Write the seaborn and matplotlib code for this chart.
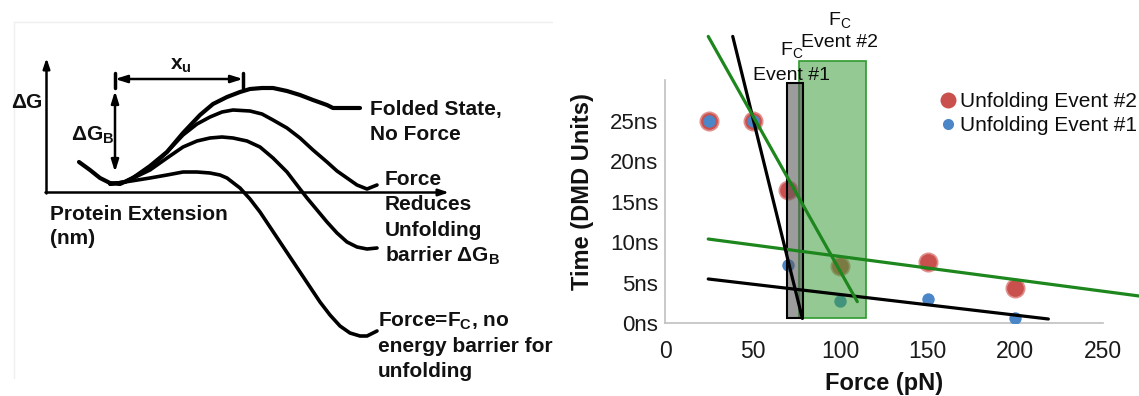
import matplotlib
matplotlib.use("Agg")
import matplotlib.pyplot as plt
from matplotlib.lines import Line2D
from matplotlib.patches import Rectangle
import seaborn as sns
import pandas as pd

# ---------------- data ----------------
# Right panel: unfolding times vs force
force = [25, 50, 70, 100, 150, 200]
event2_time = [25.0, 25.0, 16.4, 7.1, 7.6, 4.3]
event1_time = [25.0, 25.0, 7.2, 2.8, 3.0, 0.7]
# trend lines (end points)
ev1_steep_x = [38.6, 78.4]
ev1_steep_y = [35.4, 0.6]
ev1_flat_x = [24.6, 219.0]
ev1_flat_y = [5.47, 0.53]
ev2_steep_x = [24.6, 109.8]
ev2_steep_y = [35.4, 2.67]
ev2_flat_x = [24.6, 270.8]
ev2_flat_y = [10.4, 3.37]
# critical force bands
fc1_x = [69.4, 78.9]
fc1_y = [0.6, 29.7]
fc2_x = [76.7, 114.8]
fc2_y = [0.6, 32.4]
x_ticks = [0, 50, 100, 150, 200, 250]
y_ticks = [0, 5, 10, 15, 20, 25]
y_ticklabels = ["0ns", "5ns", "10ns", "15ns", "20ns", "25ns"]
legend_labels = ["Unfolding Event #2", "Unfolding Event #1"]

# Left panel: schematic energy landscapes (image-pixel units)
c1_x = [79, 90, 100, 110, 120, 133, 150, 167, 183, 200, 213, 227, 240, 250, 262, 273, 287, 300, 313, 327, 333, 345, 360]
c1_y = [162, 170, 178, 183, 184, 178, 166, 152, 133, 115, 104, 97, 92, 89, 88, 88, 91, 95, 100, 105, 108, 108, 108]
c2_x = [110, 125, 150, 167, 183, 197, 210, 222, 233, 250, 262, 273, 287, 300, 313, 327, 337, 347, 357, 367, 377]
c2_y = [184, 182, 168, 152, 135, 124, 117, 112, 110, 111, 114, 120, 128, 138, 150, 162, 171, 178, 185, 189, 185]
c3_x = [110, 125, 150, 167, 183, 197, 210, 222, 233, 247, 260, 273, 287, 300, 307, 317, 327, 337, 347, 357, 367, 377]
c3_y = [184, 182, 170, 158, 147, 141, 138, 137, 138, 141, 147, 158, 172, 189, 198, 210, 222, 233, 242, 247, 249, 248]
c4_x = [110, 125, 150, 167, 183, 197, 210, 220, 227, 240, 250, 260, 270, 280, 290, 300, 310, 320, 330, 340, 350, 360, 367, 377]
c4_y = [184, 182, 178, 175, 172, 172, 173, 175, 178, 188, 199, 212, 227, 242, 257, 272, 287, 302, 315, 326, 333, 336, 336, 331]
curve_label_lines = [
    ["Folded State,", "No Force"],
    ["Force", "Reduces", "Unfolding", "barrier ΔG$_\\mathbf{B}$"],
    ["Force=F$_\\mathbf{C}$, no", "energy barrier for", "unfolding"],
]

# ---------------- style ----------------
sns.set_style("white")
plt.rcParams["font.family"] = ["Liberation Sans", "DejaVu Sans"]
plt.rcParams["mathtext.fontset"] = "custom"
plt.rcParams["mathtext.rm"] = "Liberation Sans"
plt.rcParams["mathtext.bf"] = "Liberation Sans:bold"
plt.rcParams["mathtext.it"] = "Liberation Sans:italic"

W, H = 1139, 396
fig = plt.figure(figsize=(W / 100, H / 100), dpi=100)
fig.patch.set_facecolor("white")

# ================= LEFT PANEL =================
axl = fig.add_axes([0, 0, 560 / W, 1])
axl.set_xlim(0, 560)
axl.set_ylim(396, 0)
axl.axis("off")

# faint frame
axl.plot([14, 552], [22, 22], color="#efefef", lw=1)
axl.plot([14, 14], [22, 378], color="#efefef", lw=1)

# axes arrows
axl.annotate("", xy=(46.5, 58), xytext=(46.5, 193.5),
             arrowprops=dict(arrowstyle="-|>,head_length=0.6,head_width=0.2", color="black", lw=1.8, shrinkA=0, shrinkB=0))
axl.annotate("", xy=(449, 192.5), xytext=(45.5, 192.5),
             arrowprops=dict(arrowstyle="-|>,head_length=0.6,head_width=0.2", color="black", lw=1.8, shrinkA=0, shrinkB=0))

for cx, cy, lw in [(c1_x, c1_y, 3.0), (c2_x, c2_y, 2.6), (c3_x, c3_y, 2.6), (c4_x, c4_y, 2.6)]:
    sns.lineplot(x=cx, y=cy, sort=False, estimator=None, color="black", lw=lw, ax=axl)

# x_u arrow
axl.annotate("", xy=(115, 79), xytext=(243, 79),
             arrowprops=dict(arrowstyle="<|-|>,head_length=0.7,head_width=0.22", color="black", lw=1.8, shrinkA=0, shrinkB=0))
axl.plot([115, 115], [73, 88], color="black", lw=2.5)
axl.plot([243, 243], [73, 88], color="black", lw=2.5)
# delta G_B arrow
axl.annotate("", xy=(115, 91), xytext=(115, 172),
             arrowprops=dict(arrowstyle="<|-|>,head_length=0.7,head_width=0.22", color="black", lw=1.8, shrinkA=0, shrinkB=0))

tfs = 15
tkw = dict(fontsize=tfs, fontweight="bold", color="#111111", va="baseline")
axl.text(11, 107.5, "ΔG", ha="left", **tkw)
axl.text(71, 140.5, "ΔG$_\\mathbf{B}$", ha="left", **tkw)
axl.text(181, 70, "x$_\\mathbf{u}$", ha="center", **tkw)
axl.text(50, 220.5, "Protein Extension", ha="left", **tkw)
axl.text(50, 244, "(nm)", ha="left", **tkw)
label_pos = [(370, [115, 140]), (385, [185, 210, 236.5, 261.5]), (378, [327, 352.5, 377])]
for lines, (lx, ys) in zip(curve_label_lines, label_pos):
    for t, yy in zip(lines, ys):
        axl.text(lx, yy, t, ha="left", **tkw)

# ================= RIGHT PANEL =================
x0_px, y0_px = 665.2, 323.3
px_per_x = 1.7496
px_per_y = 8.104
xmax = (W - x0_px) / px_per_x
ymax = y0_px / px_per_y
axr = fig.add_axes([x0_px / W, (H - y0_px) / H, (W - x0_px) / W, y0_px / H])
axr.set_xlim(0, xmax)
axr.set_ylim(0, ymax)
axr.patch.set_alpha(0)

red = "#C9504C"
blue = "#4A86C8"
df2 = pd.DataFrame({"force": force, "time": event2_time})
df1 = pd.DataFrame({"force": force, "time": event1_time})
sns.scatterplot(data=df2, x="force", y="time", s=175, color=red, edgecolor="#e08f8c",
                linewidth=1.2, ax=axr, zorder=2, legend=False)
sns.scatterplot(data=df1, x="force", y="time", s=80, color=blue, linewidth=0,
                ax=axr, zorder=3, legend=False)

axr.add_patch(Rectangle((fc2_x[0], fc2_y[0]), fc2_x[1] - fc2_x[0], fc2_y[1] - fc2_y[0],
                        facecolor="#3c9e3c", alpha=0.55, edgecolor="none", zorder=4))
axr.add_patch(Rectangle((fc2_x[0], fc2_y[0]), fc2_x[1] - fc2_x[0], fc2_y[1] - fc2_y[0],
                        facecolor="none", edgecolor="#2e9a2e", lw=1.2, zorder=4))
axr.add_patch(Rectangle((fc1_x[0], fc1_y[0]), fc1_x[1] - fc1_x[0], fc1_y[1] - fc1_y[0],
                        facecolor="#5a5a5a", alpha=0.6, edgecolor="none", zorder=5))
axr.add_patch(Rectangle((fc1_x[0], fc1_y[0]), fc1_x[1] - fc1_x[0], fc1_y[1] - fc1_y[0],
                        facecolor="none", edgecolor="black", lw=1.5, zorder=5))

green = "#1D861D"
for lx, ly, c in [(ev2_flat_x, ev2_flat_y, green), (ev1_flat_x, ev1_flat_y, "black"),
                  (ev1_steep_x, ev1_steep_y, "black"), (ev2_steep_x, ev2_steep_y, green)]:
    sns.lineplot(x=lx, y=ly, color=c, lw=2.3, ax=axr, zorder=6)

for ln in axr.lines:
    ln.set_clip_on(False)

# band labels
txt_col = "#0d0d0d"
axr.text(99.9, 36.8, "F$_\\mathregular{C}$", ha="center", va="baseline", fontsize=14, color=txt_col)
axr.text(99.4, 34.1, "Event #2", ha="center", va="baseline", fontsize=14, color=txt_col)
axr.text(72.3, 33.1, "F$_\\mathregular{C}$", ha="center", va="baseline", fontsize=14, color=txt_col, zorder=7)
axr.text(72.3, 30.0, "Event #1", ha="center", va="baseline", fontsize=14, color=txt_col, zorder=7)

# axes styling
sns.despine(ax=axr)
axr.spines["left"].set_bounds(0, 30)
axr.spines["bottom"].set_bounds(0, 250)
for s in ["left", "bottom"]:
    axr.spines[s].set_color("#c0c0c0")
    axr.spines[s].set_linewidth(1.2)
axr.set_xticks(x_ticks)
axr.set_xticklabels([str(v) for v in x_ticks], fontsize=16.5, color="#1a1a1a")
axr.set_yticks(y_ticks)
axr.set_yticklabels(y_ticklabels, fontsize=16, color="#1a1a1a")
axr.tick_params(axis="x", direction="out", length=4, width=1.1, color="#c0c0c0", pad=8)
axr.tick_params(axis="y", direction="out", length=3, width=1.1, color="#c0c0c0", pad=2)
axr.set_xlabel("Force (pN)", fontsize=17, fontweight="bold", color="#111111")
axr.set_ylabel("Time (DMD Units)", fontsize=17, fontweight="bold", color="#111111")
axr.xaxis.set_label_coords((884 - x0_px) / (W - x0_px), (y0_px - 372) / y0_px)
axr.yaxis.set_label_coords((594 - x0_px) / (W - x0_px), (y0_px - 192) / y0_px)

handles = [Line2D([], [], marker="o", ls="", color=red, markersize=11.5, markeredgewidth=0),
           Line2D([], [], marker="o", ls="", color=blue, markersize=8, markeredgewidth=0)]
axr.legend(handles, legend_labels, loc="upper left", bbox_to_anchor=(940 / W, 1 - 92 / H),
           bbox_transform=fig.transFigure, frameon=False, fontsize=15, handlelength=0.8,
           handletextpad=0.15, borderpad=0, borderaxespad=0, labelspacing=0.25,
           labelcolor=txt_col)

fig.savefig("out.png", dpi=100, facecolor="white")
